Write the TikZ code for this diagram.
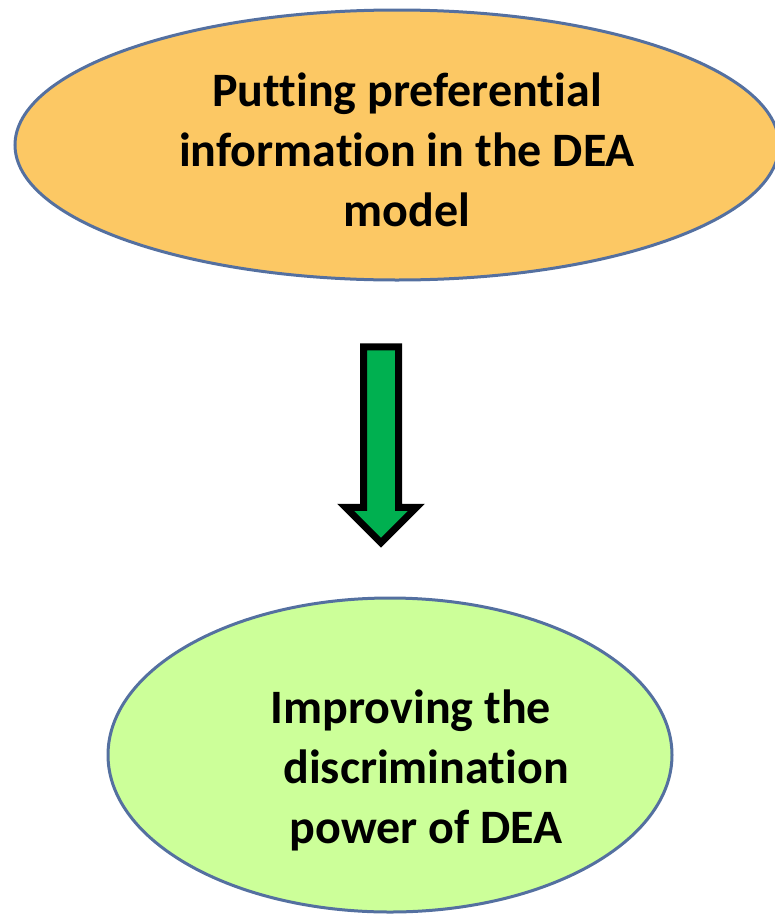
\documentclass[tikz,border=0pt]{standalone}
\usepackage{fontspec}
\setmainfont{Carlito}[Ligatures=NoCommon]
\usepackage{tikz}
\usetikzlibrary{shapes.geometric,shapes.arrows}

\definecolor{ovalOrange}{RGB}{252,200,100}
\definecolor{ovalGreen}{RGB}{204,255,153}
\definecolor{ovalEdge}{RGB}{84,112,160}
\definecolor{arrowGreen}{RGB}{0,176,80}

\tikzset{
  oval/.style={ellipse, draw=ovalEdge, line width=3pt, inner sep=0pt},
  ovaltext/.style={font=\bfseries\fontsize{48}{60}\selectfont, align=center, inner sep=0pt},
  downarrow/.style={single arrow, draw=black, fill=arrowGreen, line width=7pt,
    line join=miter, rotate=-90, inner sep=14pt, minimum height=196pt,
    minimum width=64pt, single arrow head extend=18pt}
}

\begin{document}
\begin{tikzpicture}[x=1pt,y=-1pt]
  \useasboundingbox (0,0) rectangle (775,916);
  % top oval
  \node[oval, fill=ovalOrange, minimum width=764pt, minimum height=270pt] (putting) at (397,145) {};
  \node[ovaltext] (puttingtext) at (407,150) {Putting preferential\\information in the DEA\\model};
  % arrow between
  \node[downarrow] (flow) at (381,436) {};
  % bottom oval
  \node[oval, fill=ovalGreen, minimum width=564pt, minimum height=314pt] (improving) at (390,755) {};
  \node[ovaltext] (improvingtext) at (411,770) {Improving the\\\hspace*{30pt}discrimination\\\hspace*{30pt}power of DEA};
\end{tikzpicture}
\end{document}
